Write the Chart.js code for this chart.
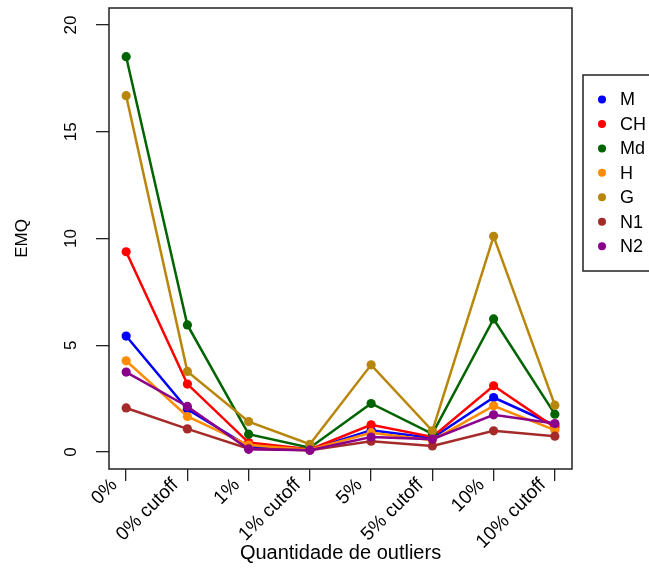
<!DOCTYPE html>
<html>
<head>
<meta charset="utf-8">
<script src="https://cdn.jsdelivr.net/npm/chart.js@4/dist/chart.umd.min.js"></script>
<style>
  html, body { margin: 0; padding: 0; background: #fff; }
  #wrap { width: 649px; height: 568px; }
</style>
</head>
<body>
<div id="wrap"><canvas id="c" width="649" height="568"></canvas></div>
<script>
const categories = ["0%", "0% cutoff", "1%", "1% cutoff", "5%", "5% cutoff", "10%", "10% cutoff"];
const yTicks = [0, 5, 10, 15, 20];
const seriesNames = ["M", "CH", "Md", "H", "G", "N1", "N2"];
const seriesColors = ["#0000FF", "#FF0000", "#006400", "#FF8C00", "#B8860B", "#A52A2A", "#8B008B"];
const M  = [5.43, 2.0, 0.25, 0.1, 1.02, 0.65, 2.55, 1.25];
const CH = [9.38, 3.18, 0.44, 0.12, 1.27, 0.7, 3.1, 1.15];
const Md = [18.52, 5.95, 0.83, 0.2, 2.27, 0.85, 6.23, 1.77];
const H  = [4.27, 1.66, 0.32, 0.1, 0.9, 0.55, 2.16, 1.02];
const G  = [16.69, 3.77, 1.42, 0.36, 4.08, 0.99, 10.1, 2.19];
const N1 = [2.06, 1.08, 0.15, 0.08, 0.5, 0.28, 0.99, 0.74];
const N2 = [3.74, 2.13, 0.12, 0.08, 0.7, 0.6, 1.74, 1.33];
const seriesValues = [M, CH, Md, H, G, N1, N2];

const FONT = "'Liberation Sans', Arial, sans-serif";

const datasets = seriesValues.map((vals, i) => ({
  label: seriesNames[i],
  data: vals.map((v, j) => ({ x: j + 1, y: v })),
  borderColor: seriesColors[i],
  backgroundColor: seriesColors[i],
  pointBackgroundColor: seriesColors[i],
  pointBorderColor: seriesColors[i],
  pointBorderWidth: 0,
  pointRadius: 4.6,
  borderWidth: 2.5,
  tension: 0,
  order: seriesValues.length - 1 - i
}));

const framePlugin = {
  id: 'frame',
  afterDraw(chart) {
    const ctx = chart.ctx;
    const a = chart.chartArea;
    const ys = chart.scales.y;
    ctx.save();
    // plot box
    ctx.strokeStyle = '#222';
    ctx.lineWidth = 1.5;
    ctx.strokeRect(a.left, a.top, a.right - a.left, a.bottom - a.top);
    // rotated y tick labels
    ctx.fillStyle = '#000';
    ctx.font = '17px ' + FONT;
    ctx.textAlign = 'center';
    ctx.textBaseline = 'middle';
    ys.ticks.forEach(t => {
      const py = ys.getPixelForValue(t.value);
      ctx.save();
      ctx.translate(71, py);
      ctx.rotate(-Math.PI / 2);
      ctx.fillText(String(t.value), 0, 0);
      ctx.restore();
    });
    // legend
    const lx = 583, ly = 75, lh = 196;
    ctx.strokeStyle = '#222';
    ctx.lineWidth = 1.5;
    ctx.strokeRect(lx, ly, 100, lh);
    ctx.font = '18px ' + FONT;
    ctx.textAlign = 'left';
    ctx.textBaseline = 'middle';
    chart.data.datasets.forEach((ds, i) => {
      const ry = 99.5 + i * 24.45;
      ctx.fillStyle = ds.borderColor;
      ctx.beginPath();
      ctx.arc(602, ry, 4, 0, Math.PI * 2);
      ctx.fill();
      ctx.fillStyle = '#000';
      ctx.fillText(ds.label, 620, ry + 1);
    });
    ctx.restore();
  }
};

new Chart(document.getElementById('c'), {
  type: 'line',
  data: { datasets },
  options: {
    responsive: false,
    animation: false,
    layout: { padding: { top: 8, right: 77, left: 0, bottom: 0 } },
    plugins: { legend: { display: false }, tooltip: { enabled: false } },
    scales: {
      x: {
        type: 'linear',
        min: 0.72,
        max: 8.28,
        afterBuildTicks(scale) {
          scale.ticks = categories.map((c, i) => ({ value: i + 1 }));
        },
        afterFit(scale) {
          scale.height = 99;
          scale.paddingLeft = 0;
          scale.paddingRight = 0;
        },
        ticks: {
          autoSkip: false,
          minRotation: 45,
          maxRotation: 45,
          padding: -7,
          labelOffset: -12,
          color: '#000',
          font: { family: FONT, size: 19 },
          callback: (v) => categories[Math.round(v) - 1]
        },
        grid: { drawOnChartArea: false, drawTicks: true, tickLength: 12, color: '#222', lineWidth: 1.3 },
        border: { display: false },
        title: {
          display: true,
          text: 'Quantidade de outliers',
          color: '#000',
          font: { family: FONT, size: 20 },
          padding: { top: 0, bottom: 3 }
        }
      },
      y: {
        type: 'linear',
        min: -0.8,
        max: 20.8,
        afterBuildTicks(scale) {
          scale.ticks = yTicks.map(v => ({ value: v }));
        },
        afterFit(scale) {
          scale.width = 109;
          scale.paddingTop = 0;
          scale.paddingBottom = 0;
        },
        ticks: { display: false },
        grid: { drawOnChartArea: false, drawTicks: true, tickLength: 13, color: '#222', lineWidth: 1.3 },
        border: { display: false },
        title: {
          display: true,
          text: 'EMQ',
          color: '#000',
          font: { family: FONT, size: 17 },
          padding: { top: 12, bottom: 0 }
        }
      }
    }
  },
  plugins: [framePlugin]
});
</script>
</body>
</html>
